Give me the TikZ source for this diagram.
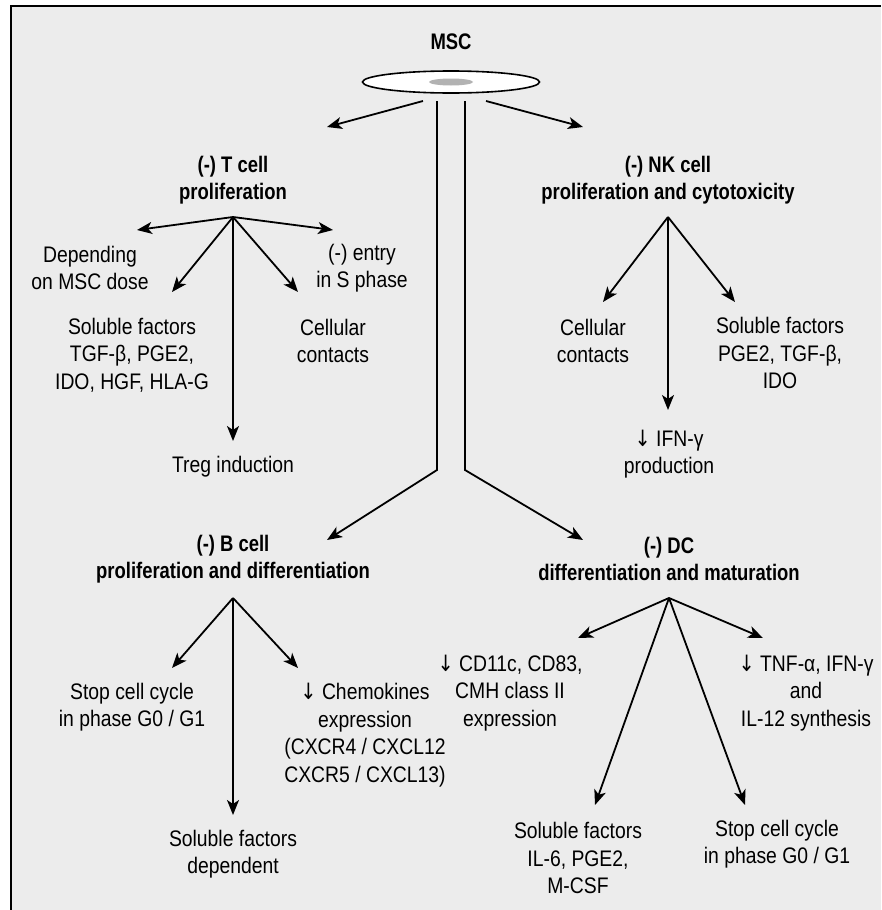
\documentclass[tikz,border=0pt]{standalone}
\usepackage{fontspec}
\setmainfont{Liberation Sans}[FakeStretch=0.86,BoldFeatures={FakeStretch=0.82}]
\newfontfamily\arrowfont{DejaVu Sans}[FakeStretch=0.86]
\newcommand\down{{\arrowfont ↓}}
\usetikzlibrary{arrows.meta,shapes}
\definecolor{panel}{HTML}{ECECEC}
\tikzset{
  font=\fontsize{22.5}{27.5}\selectfont
}

\begin{document}
\begin{tikzpicture}[x=1pt,y=-1pt,
  txt/.style={align=center,inner sep=0pt},
  title/.style={txt,font=\fontsize{22.5}{27.5}\selectfont\bfseries},
  link/.style={line width=1.8pt},
  >={Stealth[length=15pt,width=12pt,inset=4pt]}]
\useasboundingbox (0,0) rectangle (881,910);
\fill[panel] (11,6) rectangle (881,910);
\draw[line width=2pt] (11,910) -- (11,6) -- (881,6);

% the cell
\node[title] (msc) at (451,42) {MSC};
\node[ellipse,draw,fill=white,line width=1.6pt,minimum width=177,minimum height=22] (cellbody) at (451,82) {};
\node[ellipse,fill=black!30,minimum width=44,minimum height=7,inner sep=0pt] (nucleus) at (cellbody.center) {};

% T cell
\node[title] (ttitle) at (233,180) {(-) T cell\\proliferation};
\node[txt] (tdose) at (90,268) {Depending\\on MSC dose};
\node[txt] (tentry) at (362,268) {(-) entry\\in S phase};
\node[txt] (tsoluble) at (132,355) {Soluble factors\\TGF-β, PGE2,\\IDO, HGF, HLA-G};
\node[txt] (tcontact) at (333,341) {Cellular\\contacts};
\node[txt] (treg) at (233,467) {Treg induction};

% NK cell
\node[title] (nktitle) at (668,180) {(-) NK cell\\proliferation and cytotoxicity};
\node[txt] (nkcontact) at (593,341) {Cellular\\contacts};
\node[txt] (nksoluble) at (780,353) {Soluble factors\\PGE2, TGF-β,\\IDO};
\node[txt] (nkifn) at (669,454) {\down\ IFN-γ\\production};

% B cell
\node[title] (btitle) at (233,559) {(-) B cell\\proliferation and differentiation};
\node[txt] (bcycle) at (132,707) {Stop cell cycle\\in phase G0 / G1};
\node[txt] (bchemo) at (365,735) {\down\ Chemokines\\expression\\(CXCR4 / CXCL12\\CXCR5 / CXCL13)};
\node[txt] (bsoluble) at (233,854) {Soluble factors\\dependent};

% DC
\node[title] (dctitle) at (669,559) {(-) DC\\differentiation and maturation};
\node[txt] (dcmarker) at (510,693) {\down\ CD11c, CD83,\\CMH class II\\expression};
\node[txt] (dccyto) at (806,693) {\down\ TNF-α, IFN-γ\\and\\IL-12 synthesis};
\node[txt] (dcsoluble) at (578,858) {Soluble factors\\IL-6, PGE2,\\M-CSF};
\node[txt] (dccycle) at (777,844) {Stop cell cycle\\in phase G0 / G1};

% fan points and arrow ends
\coordinate (tfan) at (233,217);
\coordinate (nkfan) at (668,217);
\coordinate (bfan) at (233,598);
\coordinate (dcfan) at (669,598);
\coordinate (tdose-end) at (137,230);
\coordinate (tentry-end) at (333,230);
\coordinate (tsoluble-end) at (172,292);
\coordinate (tcontact-end) at (298,292);
\coordinate (treg-end) at (233,441);
\coordinate (nkcontact-end) at (603,302);
\coordinate (nksoluble-end) at (735,302);
\coordinate (nkifn-end) at (668,410);
\coordinate (bcycle-end) at (172,668);
\coordinate (bchemo-end) at (298,668);
\coordinate (bsoluble-end) at (233,815);
\coordinate (dcmarker-end) at (578,638);
\coordinate (dccyto-end) at (763,638);
\coordinate (dcsoluble-end) at (595,805);
\coordinate (dccycle-end) at (745,805);

% from the cell
\coordinate (left-out) at (423,101);
\coordinate (right-out) at (486,101);
\coordinate (t-end) at (327,127);
\coordinate (nk-end) at (583,127);
\coordinate (stem-l) at (437,101);
\coordinate (stem-r) at (465,101);
\coordinate (fork-l) at (437,470);
\coordinate (fork-r) at (465,470);
\coordinate (b-end) at (327,540);
\coordinate (dc-end) at (583,540);

\path[->,link] (left-out) edge (t-end)
               (right-out) edge (nk-end);
\draw[->,link] (stem-l) -- (fork-l) -- (b-end);
\draw[->,link] (stem-r) -- (fork-r) -- (dc-end);

\path[->,link] (tfan) edge (tdose-end) edge (tentry-end) edge (tsoluble-end)
                      edge (tcontact-end) edge (treg-end);
\path[->,link] (nkfan) edge (nkcontact-end) edge (nksoluble-end) edge (nkifn-end);
\path[->,link] (bfan) edge (bcycle-end) edge (bchemo-end) edge (bsoluble-end);
\path[->,link] (dcfan) edge (dcmarker-end) edge (dccyto-end)
                       edge (dcsoluble-end) edge (dccycle-end);
\end{tikzpicture}
\end{document}
